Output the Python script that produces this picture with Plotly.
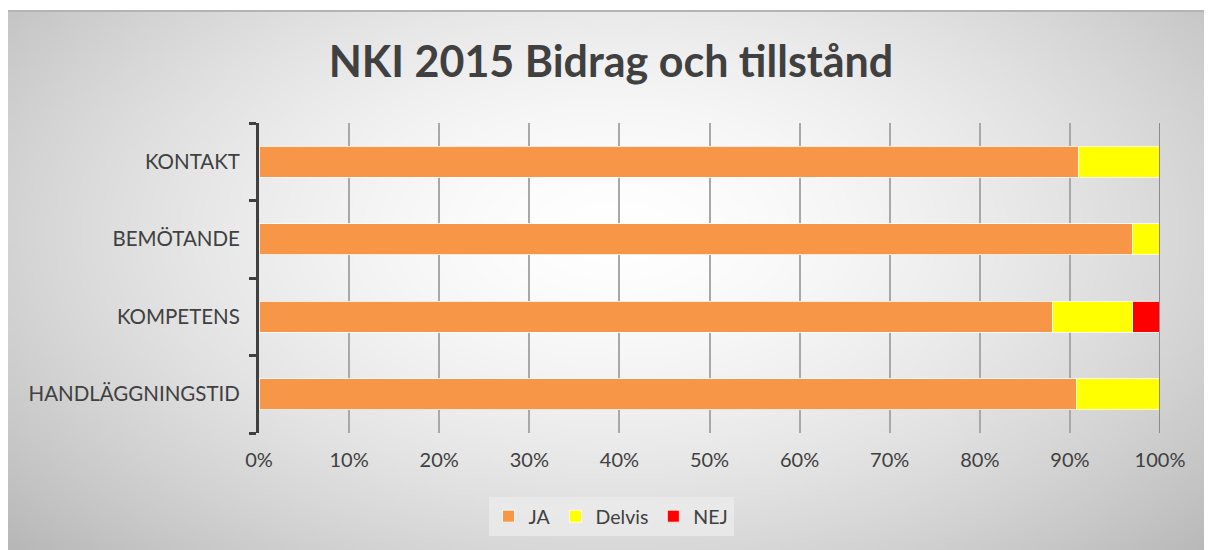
import base64, struct, zlib
import numpy as np
import plotly.graph_objects as go

categories = ["KONTAKT", "BEMÖTANDE", "KOMPETENS", "HANDLÄGGNINGSTID"]
ja = [91.0, 96.9, 88.1, 90.7]
delvis = [9.0, 3.1, 8.9, 9.3]
nej = [0.0, 0.0, 3.0, 0.0]
x_ticks = [0, 10, 20, 30, 40, 50, 60, 70, 80, 90, 100]
x_tick_labels = [f"{v}%" for v in x_ticks]

OFF = 8  # page body margin
W, H = 1212 - OFF, 550 - OFF
L, R, T, B = 259 - OFF, 1160 - OFF, 123 - OFF, 433 - OFF
TOP = 3


def gradient_png(w, h):
    yy, xx = np.mgrid[0:h, 0:w].astype(float)
    cx, cy = w * 0.5, h * 0.40
    rx, ry = w * 0.62, h * 0.78
    t = np.sqrt(((xx - cx) / rx) ** 2 + ((yy - cy) / ry) ** 2)
    t = np.clip(t, 0, 1.2)
    v = 255 - 62 * (t ** 1.6)
    v = np.clip(v, 0, 255).astype(np.uint8)
    raw = b"".join(b"\x00" + v[i].tobytes() for i in range(h))

    def chunk(tag, data):
        c = struct.pack(">I", len(data)) + tag + data
        return c + struct.pack(">I", zlib.crc32(tag + data) & 0xFFFFFFFF)

    png = b"\x89PNG\r\n\x1a\n"
    png += chunk(b"IHDR", struct.pack(">IIBBBBB", w, h, 8, 0, 0, 0, 0))
    png += chunk(b"IDAT", zlib.compress(raw, 9))
    png += chunk(b"IEND", b"")
    return "data:image/png;base64," + base64.b64encode(png).decode()


bg = gradient_png(402, 180)

fig = go.Figure()
line = dict(color="rgba(255,255,255,0.8)", width=1)
fig.add_trace(go.Bar(y=categories, x=ja, name="JA", orientation="h",
                     marker=dict(color="#F79646", line=line)))
fig.add_trace(go.Bar(y=categories, x=delvis, name="Delvis", orientation="h",
                     marker=dict(color="#FFFF00", line=line)))
fig.add_trace(go.Bar(y=categories, x=nej, name="NEJ", orientation="h",
                     marker=dict(color="#FF0000", line=line)))

pw, ph = R - L, B - T
fig.add_layout_image(dict(
    source=bg, xref="paper", yref="paper",
    x=(0 - L) / pw, y=(B - TOP) / ph,
    sizex=(W + 10) / pw, sizey=(H - TOP + 10) / ph,
    sizing="stretch", xanchor="left", yanchor="top", layer="below",
))
fig.add_shape(type="line", xref="paper", yref="paper",
              x0=(0 - L) / pw, x1=(W + 10 - L) / pw,
              y0=(B - TOP) / ph, y1=(B - TOP) / ph,
              line=dict(color="#b4b4b4", width=2))
fig.add_shape(type="line", xref="x", yref="paper", x0=100, x1=100, y0=0, y1=1,
              line=dict(color="#8c8c8c", width=2))

fig.update_layout(
    width=W, height=H,
    margin=dict(l=L, r=W - R, t=T, b=H - B),
    barmode="stack", bargap=0.6,
    paper_bgcolor="white", plot_bgcolor="rgba(0,0,0,0)",
    font=dict(family="Lato, Carlito, sans-serif", color="#404040", size=20),
    title=dict(text="<b>NKI 2015 Bidrag och tillstånd</b>",
               font=dict(size=43, color="#404040"),
               x=(611 - OFF) / W, xanchor="center", y=1 - (62 - OFF) / H, yanchor="middle"),
    legend=dict(orientation="h", x=(611 - OFF - L) / pw, xanchor="center",
                y=(B - (497 - OFF)) / ph, yanchor="top",
                bgcolor="rgba(235,235,235,0.8)", font=dict(size=19.5, color="#404040"),
                traceorder="normal", itemwidth=30),
    xaxis=dict(range=[0, 100], tickvals=x_ticks, ticktext=x_tick_labels,
               showgrid=True, gridcolor="#a8a8a8", gridwidth=2,
               zeroline=False, showline=False, ticks="",
               ticklabelstandoff=13, tickfont=dict(size=20, color="#404040")),
    yaxis=dict(categoryorder="array", categoryarray=categories[::-1],
               showline=True, linecolor="#404040", linewidth=3,
               ticks="outside", ticklen=7, tickwidth=3, tickcolor="#404040",
               tickson="boundaries", showgrid=False,
               ticklabelstandoff=12, tickfont=dict(size=20.5, color="#404040")),
)

fig.write_html("out.html")
